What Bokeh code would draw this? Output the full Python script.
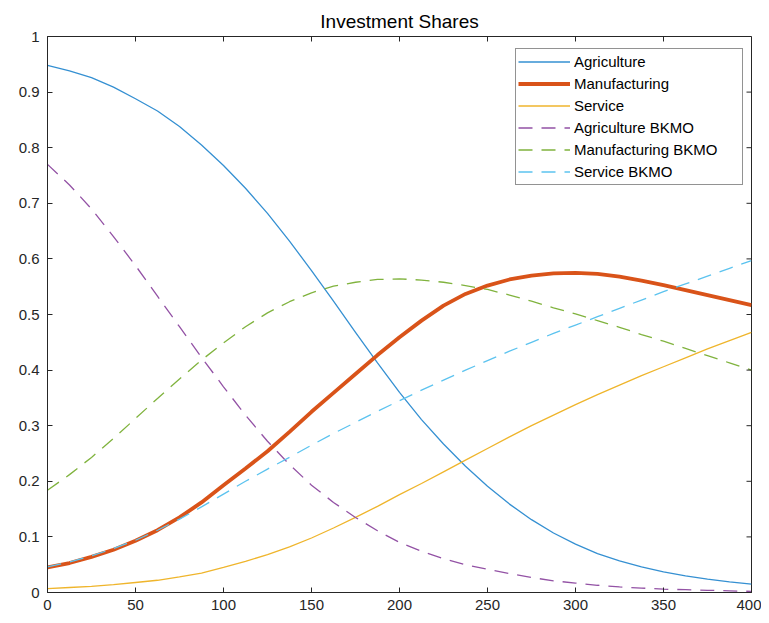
from bokeh.plotting import figure
from bokeh.models import FixedTicker, Range1d
from bokeh.embed import file_html
from bokeh.resources import INLINE

# ---- data ----
x = [0, 12.5, 25, 37.5, 50, 62.5, 75, 87.5, 100, 112.5, 125, 137.5, 150, 162.5, 175, 187.5,
     200, 212.5, 225, 237.5, 250, 262.5, 275, 287.5, 300, 312.5, 325, 337.5, 350, 362.5, 375, 387.5, 400]

agriculture = [0.948, 0.938, 0.926, 0.909, 0.888, 0.866, 0.838, 0.805, 0.768, 0.727, 0.682, 0.632,
               0.579, 0.524, 0.468, 0.413, 0.360, 0.311, 0.267, 0.227, 0.191, 0.159, 0.131, 0.107,
               0.087, 0.070, 0.057, 0.046, 0.037, 0.030, 0.024, 0.019, 0.015]
manufacturing = [0.045, 0.053, 0.064, 0.077, 0.093, 0.112, 0.135, 0.162, 0.193, 0.223, 0.254, 0.289,
                 0.325, 0.359, 0.393, 0.427, 0.459, 0.489, 0.516, 0.537, 0.552, 0.563, 0.570, 0.574,
                 0.575, 0.573, 0.568, 0.561, 0.553, 0.544, 0.535, 0.526, 0.517]
service = [0.007, 0.009, 0.011, 0.014, 0.018, 0.022, 0.028, 0.035, 0.045, 0.056, 0.068, 0.082,
           0.098, 0.116, 0.135, 0.155, 0.176, 0.196, 0.217, 0.238, 0.259, 0.280, 0.300, 0.319,
           0.338, 0.356, 0.373, 0.390, 0.406, 0.422, 0.438, 0.453, 0.468]

agriculture_bkmo = [0.770, 0.733, 0.690, 0.640, 0.588, 0.533, 0.478, 0.423, 0.370, 0.319, 0.272, 0.230,
                    0.193, 0.162, 0.135, 0.111, 0.090, 0.074, 0.061, 0.050, 0.042, 0.034, 0.027, 0.021,
                    0.017, 0.013, 0.010, 0.008, 0.006, 0.005, 0.004, 0.003, 0.002]
manufacturing_bkmo = [0.184, 0.212, 0.243, 0.277, 0.313, 0.349, 0.384, 0.418, 0.449, 0.478, 0.503, 0.523,
                      0.539, 0.551, 0.558, 0.563, 0.564, 0.562, 0.558, 0.552, 0.545, 0.535, 0.524, 0.512,
                      0.501, 0.489, 0.477, 0.464, 0.452, 0.439, 0.426, 0.413, 0.400]
service_bkmo = [0.046, 0.055, 0.066, 0.079, 0.094, 0.112, 0.132, 0.154, 0.177, 0.200, 0.222, 0.243,
                0.265, 0.286, 0.306, 0.326, 0.345, 0.364, 0.382, 0.400, 0.417, 0.434, 0.450, 0.466,
                0.481, 0.496, 0.511, 0.526, 0.541, 0.555, 0.569, 0.583, 0.597]

x_ticks = [0, 50, 100, 150, 200, 250, 300, 350, 400]
y_ticks = [0, 0.1, 0.2, 0.3, 0.4, 0.5, 0.6, 0.7, 0.8, 0.9, 1]
y_tick_labels = ["0", "0.1", "0.2", "0.3", "0.4", "0.5", "0.6", "0.7", "0.8", "0.9", "1"]

series = [
    ("Agriculture", agriculture, "#3590d2", 1.3, "solid"),
    ("Manufacturing", manufacturing, "#D95319", 3.8, "solid"),
    ("Service", service, "#EFB52C", 1.3, "solid"),
    ("Agriculture BKMO", agriculture_bkmo, "#9352a5", 1.3, "14 9"),
    ("Manufacturing BKMO", manufacturing_bkmo, "#80b33e", 1.3, "14 9"),
    ("Service BKMO", service_bkmo, "#5cc3ef", 1.3, "14 9"),
]

FONT = "Liberation Sans"
AX = "#262626"
X0, X1, Y0, Y1 = 0, 400, 0, 1
FRAME_W, FRAME_H = 704, 556

p = figure(width=761, height=620, x_range=Range1d(X0, X1), y_range=Range1d(Y0, Y1),
           output_backend="svg", toolbar_location=None, title="Investment Shares",
           min_border_left=47, min_border_right=10, min_border_top=36, min_border_bottom=28,
           frame_width=FRAME_W, frame_height=FRAME_H)

p.title.align = "center"
p.title.text_font = FONT
p.title.text_font_style = "normal"
p.title.text_font_size = "19px"
p.title.text_color = "#000000"
p.title.standoff = 10

p.xgrid.visible = False
p.ygrid.visible = False
p.outline_line_color = AX
p.outline_line_width = 1
p.background_fill_color = "white"
p.border_fill_color = "white"

for name, ys, color, lw, dash in series:
    p.line(x, ys, line_color=color, line_width=lw, line_dash=dash, legend_label=name)

xa = p.xaxis[0]
xa.ticker = FixedTicker(ticks=x_ticks)
ya = p.yaxis[0]
ya.ticker = FixedTicker(ticks=y_ticks)
ya.major_label_overrides = {t: l for t, l in zip(y_ticks, y_tick_labels)}

for ax in (xa, ya):
    ax.major_tick_in = 5
    ax.major_tick_out = 0
    ax.minor_tick_line_color = None
    ax.axis_line_color = AX
    ax.major_tick_line_color = AX
    ax.major_label_text_font = FONT
    ax.major_label_text_font_size = "15px"
    ax.major_label_text_color = AX
xa.major_label_standoff = 7
ya.major_label_standoff = 8

# inward ticks on the top and right edges of the box (5 px long)
tick_dy = 5 * (Y1 - Y0) / FRAME_H
tick_dx = 5 * (X1 - X0) / FRAME_W
p.segment(x0=x_ticks, y0=[Y1] * len(x_ticks), x1=x_ticks, y1=[Y1 - tick_dy] * len(x_ticks),
          line_color=AX, line_width=1)
p.segment(x0=[X1] * len(y_ticks), y0=y_ticks, x1=[X1 - tick_dx] * len(y_ticks), y1=y_ticks,
          line_color=AX, line_width=1)

lg = p.legend[0]
lg.location = (468, 407)
lg.border_line_color = AX
lg.border_line_width = 1
lg.background_fill_color = "white"
lg.background_fill_alpha = 1
lg.padding = 2
lg.spacing = 1
lg.margin = 0
lg.label_height = 21
lg.glyph_height = 21
lg.glyph_width = 52
lg.label_standoff = 4
lg.label_width = 166
lg.label_text_font = FONT
lg.label_text_font_size = "15px"
lg.label_text_color = "#000000"

open("out.html", "w").write(file_html(p, INLINE))
